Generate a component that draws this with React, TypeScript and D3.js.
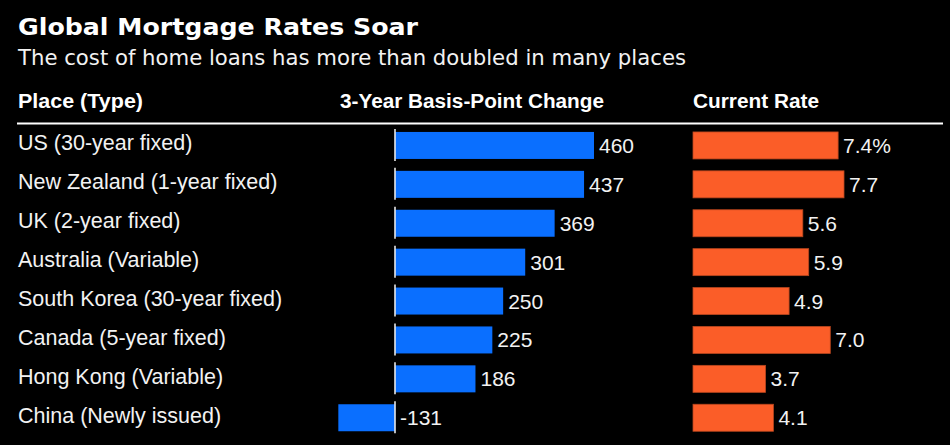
import * as d3 from "d3";

const places = [
  "US (30-year fixed)",
  "New Zealand (1-year fixed)",
  "UK (2-year fixed)",
  "Australia (Variable)",
  "South Korea (30-year fixed)",
  "Canada (5-year fixed)",
  "Hong Kong (Variable)",
  "China (Newly issued)",
];
const bpChange = [460, 437, 369, 301, 250, 225, 186, -131];
const currentRate = [7.4, 7.7, 5.6, 5.9, 4.9, 7.0, 3.7, 4.1];
const rateLabels = ["7.4%", "7.7", "5.6", "5.9", "4.9", "7.0", "3.7", "4.1"];

const width = 950;
const height = 445;
const blue = "#0a6fff";
const orange = "#fb5d28";
const textColor = "#f2f2f2";
const labelFont = "'Liberation Sans', Arial, sans-serif";

const App = () => {
  const yScale = d3
    .scaleBand<string>()
    .domain(places)
    .range([126, 437.2])
    .paddingInner(0.306)
    .paddingOuter(0.153);

  const xChange = d3.scaleLinear().domain([0, 460]).range([395, 594]);
  const xRate = d3.scaleLinear().domain([0, 7.7]).range([693, 844]);
  const bh = yScale.bandwidth();

  return (
    <svg
      width={width}
      height={height}
      style={{ position: "absolute", left: 0, top: 0, background: "#000" }}
    >
      <rect x={0} y={0} width={width} height={height} fill="#000" />
      <text
        x={18}
        y={35}
        fill="#fff"
        fontFamily="'DejaVu Sans Condensed', 'DejaVu Sans', sans-serif"
        fontWeight="bold"
        fontSize={23}
        textLength={400}
        lengthAdjust="spacingAndGlyphs"
      >
        Global Mortgage Rates Soar
      </text>
      <text
        x={18}
        y={65}
        fill={textColor}
        fontFamily="'DejaVu Sans Condensed', 'DejaVu Sans', sans-serif"
        fontWeight={300}
        fontSize={22}
        textLength={668}
        lengthAdjust="spacingAndGlyphs"
      >
        The cost of home loans has more than doubled in many places
      </text>

      {/* column headers */}
      <g fill="#fff" fontFamily={labelFont} fontWeight="bold" fontSize={20}>
        <text x={18} y={108} textLength={125} lengthAdjust="spacingAndGlyphs">
          Place (Type)
        </text>
        <text x={340} y={108} textLength={264} lengthAdjust="spacingAndGlyphs">
          3-Year Basis-Point Change
        </text>
        <text x={693} y={108} textLength={126} lengthAdjust="spacingAndGlyphs">
          Current Rate
        </text>
      </g>
      <line x1={17} x2={943} y1={123.5} y2={123.5} stroke="#fff" strokeWidth={2.2} />

      {places.map((p, i) => {
        const y = yScale(p)!;
        const cy = y + bh / 2;
        const v = bpChange[i];
        const r = currentRate[i];
        return (
          <g key={p}>
            <text
              x={18}
              y={cy + 5}
              fill={textColor}
              fontFamily={labelFont}
              fontSize={21.5}
            >
              {p}
            </text>
            <rect
              x={Math.min(xChange(0), xChange(v))}
              y={y}
              width={Math.abs(xChange(v) - xChange(0))}
              height={bh}
              fill={blue}
            />
            <line
              x1={xChange(0)}
              x2={xChange(0)}
              y1={y - 3}
              y2={y + bh + 2}
              stroke="#e8e8e8"
              strokeWidth={1.6}
            />
            <text
              x={(v >= 0 ? xChange(v) : xChange(0)) + 5}
              y={cy + 7.5}
              fill={textColor}
              fontFamily={labelFont}
              fontSize={21}
            >
              {v}
            </text>
            <rect
              x={xRate(0)}
              y={y}
              width={xRate(r) - xRate(0)}
              height={bh}
              fill={orange}
              stroke="#b8461e"
              strokeWidth={0.8}
            />
            <text
              x={xRate(r) + 5}
              y={cy + 7.5}
              fill={textColor}
              fontFamily={labelFont}
              fontSize={21}
            >
              {rateLabels[i]}
            </text>
          </g>
        );
      })}
    </svg>
  );
};

export default App;
